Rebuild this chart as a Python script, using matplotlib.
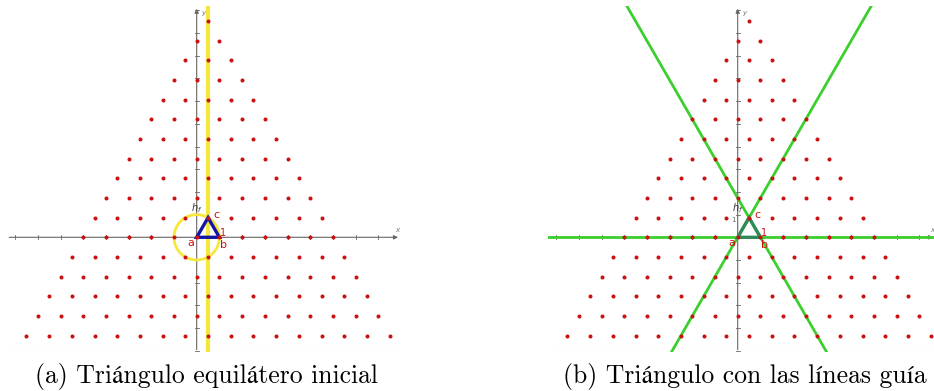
import numpy as np
import matplotlib
matplotlib.use('Agg')
import matplotlib.pyplot as plt

# lattice rows: row level (in units of triangle height) and first / last x of that row
row_levels = [-5, -4, -3, -2, -1, 0, 1, 2, 3, 4, 5, 6, 7, 8, 9, 10, 11]
row_x_start = [-7.5, -7, -6.5, -6, -5.5, -5, -4.5, -4, -3.5, -3, -2.5, -2, -1.5, -1, -0.5, 0, 0.5]
row_x_end = [8.5, 8, 7.5, 7, 6.5, 6, 5.5, 5, 4.5, 4, 3.5, 3, 2.5, 2, 1.5, 1, 0.5]

# initial triangle a, b, c
tri_names = ['a', 'b', 'c']
tri_x = [0.0, 1.0, 0.5]
tri_y = [0.0, 0.0, np.sqrt(3) / 2]

captions = ['(a) Triángulo equilátero inicial', '(b) Triángulo con las líneas guía']

H = np.sqrt(3) / 2
dot_x, dot_y = [], []
for lev, x0, x1 in zip(row_levels, row_x_start, row_x_end):
    xs = np.arange(x0, x1 + 0.01, 1.0)
    dot_x.extend(xs)
    dot_y.extend([lev * H] * len(xs))

unit = 22.7  # pixels per unit
W, Hpx = 934, 391
fig = plt.figure(figsize=(W / 100, Hpx / 100), dpi=100)

def make_ax(left_px, right_px, origin_px, top_px=6, bottom_px=352, origin_y=237.3):
    ax = fig.add_axes([left_px / W, 1 - bottom_px / Hpx,
                       (right_px - left_px) / W, (bottom_px - top_px) / Hpx])
    ax.set_xlim(-(origin_px - left_px) / unit, (right_px - origin_px) / unit)
    ax.set_ylim(-(bottom_px - origin_y) / unit, (origin_y - top_px) / unit)
    ax.axis('off')
    return ax

def draw_axes(ax, x_end):
    x0, x1 = ax.get_xlim()
    y0, y1 = ax.get_ylim()
    ax.annotate('', xy=(x_end, 0), xytext=(x0 + 0.05, 0),
                arrowprops=dict(arrowstyle='-|>', color='#666666', lw=0.8,
                                mutation_scale=6, shrinkA=0, shrinkB=0), zorder=1)
    ax.annotate('', xy=(0, y1 - 0.12), xytext=(0, y0 + 0.1),
                arrowprops=dict(arrowstyle='-|>', color='#666666', lw=0.8,
                                mutation_scale=6, shrinkA=0, shrinkB=0), zorder=1)
    for t in range(int(np.ceil(x0)), int(np.floor(x_end)) + 1):
        if t != 0:
            ax.plot([t, t], [-0.08, 0.08], color='#666666', lw=0.6, zorder=1)
    for t in range(int(np.ceil(y0)), int(np.floor(y1)) + 1):
        if t != 0:
            ax.plot([-0.08, 0.08], [t, t], color='#666666', lw=0.6, zorder=1)
    ax.text(x_end - 0.05, 0.18, 'x', fontsize=5, color='#777777', style='italic',
            ha='center', va='bottom')
    ax.text(0.3, y1 - 0.3, 'y', fontsize=5, color='#777777', style='italic',
            ha='center', va='center')
    ax.plot([x0, x1], [y0 + 0.02, y0 + 0.02], color='#e4e6ee', lw=0.8, zorder=0)

def labels(ax):
    ax.text(-0.02, 1.28, r'$h_f$', fontsize=7, color='#333333', ha='center', va='center')
    ax.text(tri_x[0] - 0.25, tri_y[0] - 0.25, tri_names[0], fontsize=8, color='#cc1111',
            ha='center', va='center')
    ax.text(tri_x[1] + 0.2, tri_y[1] - 0.35, tri_names[1], fontsize=8, color='#cc1111',
            ha='center', va='center')
    ax.text(tri_x[2] + 0.35, tri_y[2] + 0.1, tri_names[2], fontsize=8, color='#cc1111',
            ha='center', va='center')
    ax.text(tri_x[1] + 0.15, 0.18, '1', fontsize=7, color='#cc1111', ha='center', va='center')

# ---- panel (a)
ax1 = make_ax(8, 400, 196.7)
draw_axes(ax1, 8.87)
ax1.axvline(0.5, color='#f5e83a', lw=3, zorder=2)
circ = plt.Circle((tri_x[0], tri_y[0]), 1.0, fill=False, color='#f5e83a', lw=2, zorder=2)
ax1.add_patch(circ)
ax1.plot(dot_x, dot_y, 'o', color='#cc1111', ms=2.9, mec='none', zorder=4)
ax1.add_patch(plt.Polygon(list(zip(tri_x, tri_y)), closed=True, fill=False,
                          ec='#1515a5', lw=2.4, zorder=3))
labels(ax1)

# ---- panel (b)
ax2 = make_ax(548, 934, 737.7)
draw_axes(ax2, 8.6)
ax2.axhline(0, color='#3ccf2e', lw=2, zorder=2)
ax2.axline((tri_x[0], tri_y[0]), (tri_x[2], tri_y[2]), color='#3ccf2e', lw=2, zorder=2)
ax2.axline((tri_x[1], tri_y[1]), (tri_x[2], tri_y[2]), color='#3ccf2e', lw=2, zorder=2)
ax2.plot(dot_x, dot_y, 'o', color='#cc1111', ms=2.9, mec='none', zorder=4)
ax2.add_patch(plt.Polygon(list(zip(tri_x, tri_y)), closed=True, fill=False,
                          ec='#2e8b57', lw=2.4, zorder=3))
labels(ax2)
ax2.text(-0.2, 0.78, '1', fontsize=5, color='#666666', ha='center', va='center')

cap_font = ['cmr10', 'STIXGeneral', 'DejaVu Serif']
fig.text(206 / W, 1 - 376 / Hpx, captions[0], fontsize=18.5, family=cap_font,
         ha='center', va='center')
fig.text(745 / W, 1 - 376 / Hpx, captions[1], fontsize=18.5, family=cap_font,
         ha='center', va='center')

fig.savefig('out.png', dpi=100)
